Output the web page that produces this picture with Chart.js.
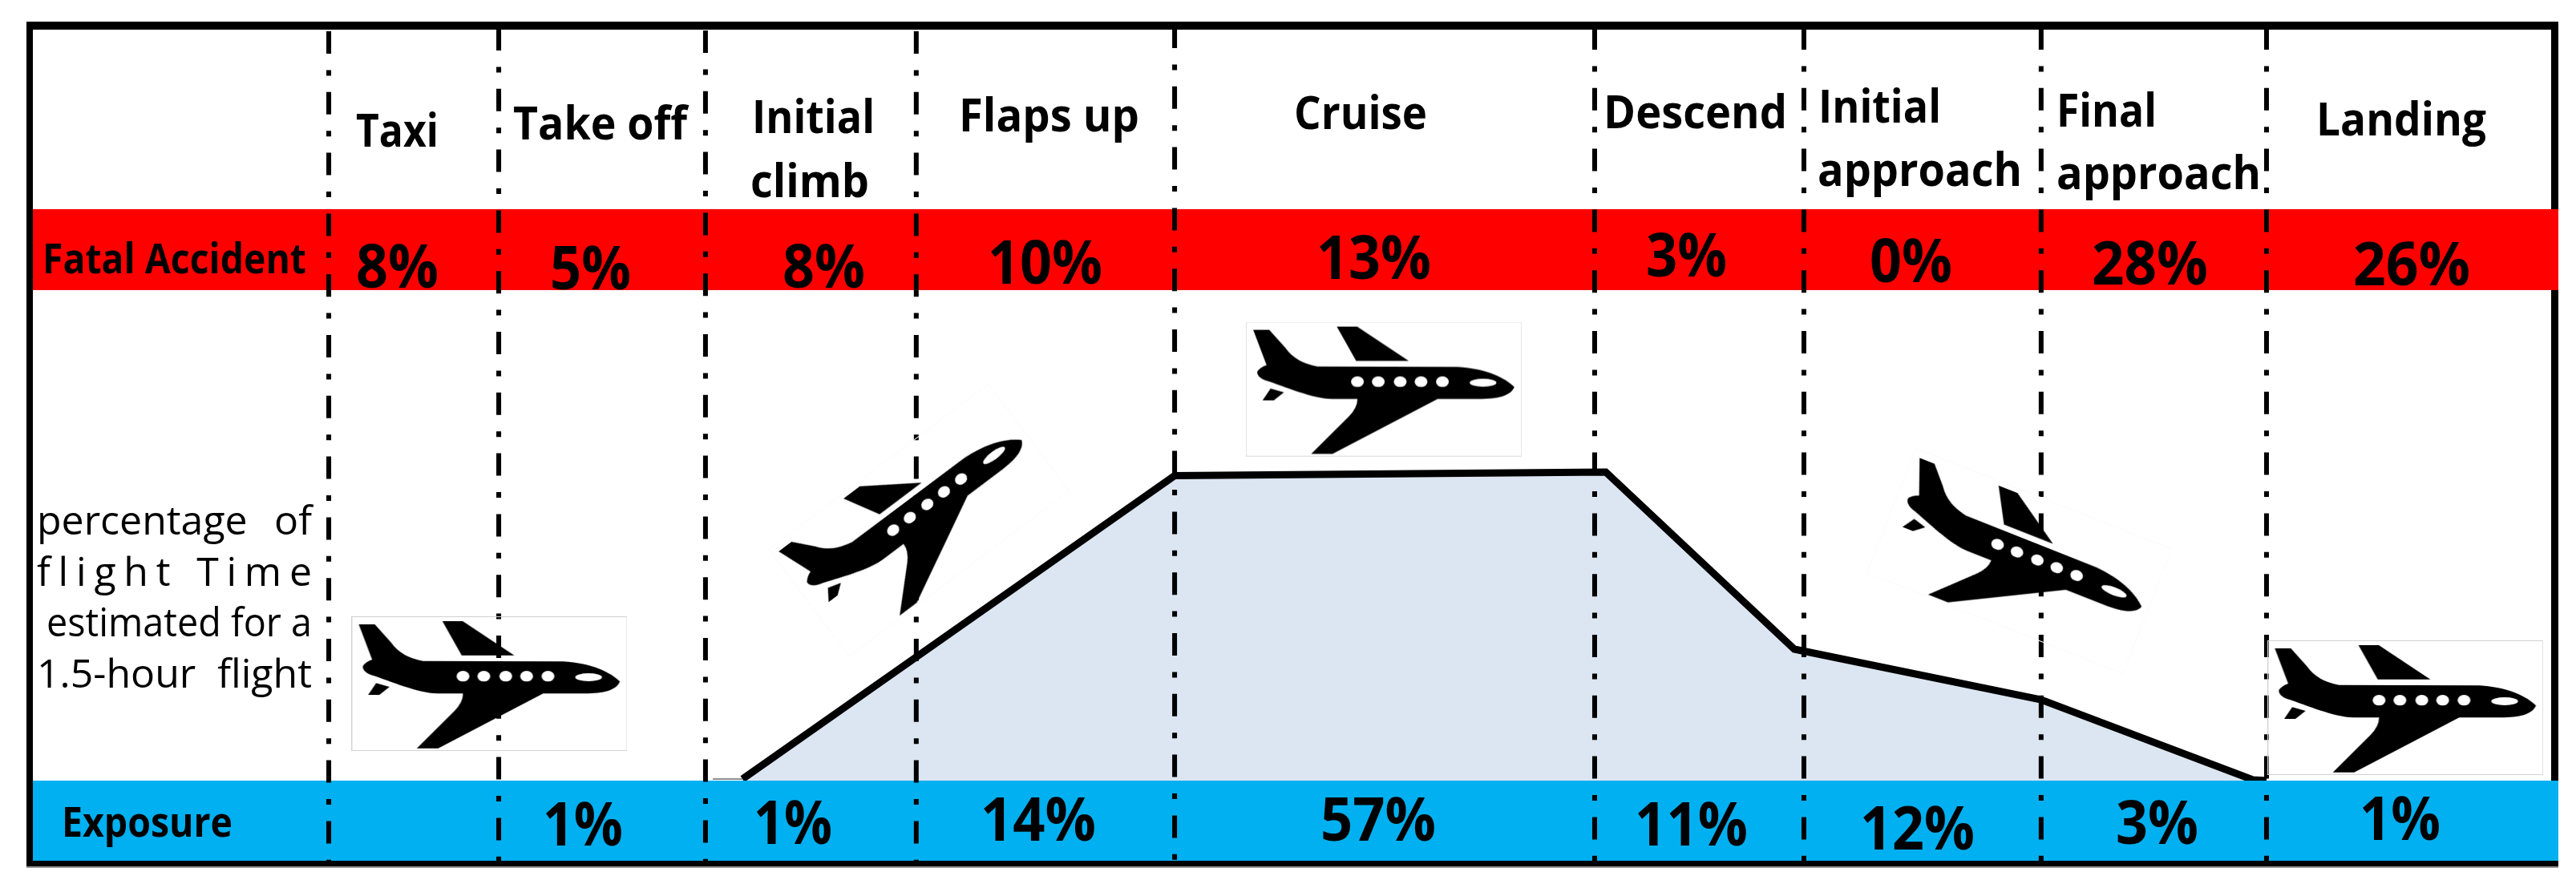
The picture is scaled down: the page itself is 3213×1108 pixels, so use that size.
<!DOCTYPE html>
<html>
<head>
<meta charset="utf-8">
<title>Flight phases</title>
<script src="https://cdn.jsdelivr.net/npm/chart.js@4/dist/chart.umd.js"></script>
<style>
  html, body { margin: 0; padding: 0; background: #fff; }
  canvas { display: block; }
</style>
</head>
<body>
<canvas id="grafico" width="3213" height="1108"></canvas>
<script>
// ---- data. x and y are % of the table width / height
var phaseLabels = ['Taxi', 'Take off', ['Initial', 'climb'], 'Flaps up', 'Cruise', 'Descend',
  ['Initial', 'approach'], ['Final', 'approach'], 'Landing'];
var fatalValues = [8, 5, 8, 10, 13, 3, 0, 28, 26];
var exposureValues = [null, 1, 1, 14, 57, 11, 12, 3, 1];
var rowFatal = 'Fatal Accident';
var rowExposure = 'Exposure';
var noteLines = ['percentage of', 'flight Time', 'estimated for a', '1.5-hour flight'];

var phaseEdges = [11.75, 18.5, 26.71, 35.08, 45.34, 62.02, 70.33, 79.75, 88.7];

var profileX = [28.18, 45.34, 62.46, 69.95, 79.75, 88.16, 88.7];
var profileY = [9.84, 46.33, 46.77, 25.46, 19.38, 9.74, 9.64];
var groundX = [27, 28.18];
var groundY = [9.84, 9.84];

var fatalBand = [68.66, 78.4];
var exposureBand = [0, 9.64];

var planeX = [18.13, 35.18, 53.65, 78.89, 94.22];
var planeY = [21.31, 40.98, 56.75, 36.07, 18.42];
var planeAngle = [0, -37, 0, 21.5, 0];

// ---- layout of the texts in the page: [left, right, baseline]
var phasePlace = [
  [[444, 547, 183]], [[640, 857, 174]], [[938, 1091, 166], [936, 1084, 246]], [[1196, 1421, 164]],
  [[1614, 1780, 161]], [[2000, 2229, 160]], [[2268, 2421, 153], [2267, 2522, 232]],
  [[2565, 2690, 158], [2565, 2820, 236]], [[2889, 3101, 169]]
];
var fatalPlace = [[444, 547, 359], [686, 787, 361], [976, 1079, 359], [1232, 1375, 354], [1642, 1785, 348],
  [2053, 2154, 345], [2332, 2435, 352], [2609, 2754, 355], [2935, 3081, 356]];
var exposurePlace = [null, [677, 777, 1055], [940, 1038, 1053], [1223, 1367, 1049], [1647, 1791, 1049],
  [2039, 2180, 1055], [2320, 2463, 1060], [2639, 2742, 1053], [2943, 3044, 1048]];
var notePlace = [[46, 389, 667], [46, 389, 731], [58, 389, 794], [46, 389, 858]];
var dashShift = [-2, 2, -1, -2, 5, 3, 3, 3, 3];
var planeBoxColor = ['#d2d2d2', '#fbfbfb', '#e4e4e4', '#fbfbfb', '#d2d2d2'];

var TEXT_FONT = '"Open Sans"';

function desenhaAviao(corCaixa) {
  var c = document.createElement('canvas');
  c.width = 344;
  c.height = 168;
  var g = c.getContext('2d');
  g.strokeStyle = corCaixa;
  g.lineWidth = 1;
  g.strokeRect(0.5, 0.5, 343, 167);
  g.scale(1 / 3, 1 / 3);
  g.translate(-28, -28);
  g.fillStyle = '#000';
  // fuselage, tail fin and near wing
  g.beginPath();
  g.moveTo(55, 58);
  g.lineTo(115, 58);
  g.lineTo(175, 125);
  g.quadraticCurveTo(215, 182, 295, 195);
  g.lineTo(820, 197);
  g.bezierCurveTo(930, 203, 1000, 240, 1032, 272);
  g.bezierCurveTo(1020, 305, 970, 317, 900, 317);
  g.lineTo(745, 317);
  g.lineTo(352, 522);
  g.lineTo(272, 522);
  g.lineTo(413, 382);
  g.quadraticCurveTo(445, 350, 445, 317);
  g.lineTo(350, 317);
  g.bezierCurveTo(270, 314, 180, 272, 100, 247);
  g.quadraticCurveTo(68, 235, 70, 215);
  g.quadraticCurveTo(80, 198, 105, 190);
  g.closePath();
  g.fill();
  // far wing
  g.beginPath();
  g.moveTo(368, 46);
  g.lineTo(444, 46);
  g.lineTo(637, 174);
  g.lineTo(440, 174);
  g.closePath();
  g.fill();
  // small tailplane
  g.beginPath();
  g.moveTo(120, 278);
  g.lineTo(170, 292);
  g.lineTo(132, 322);
  g.lineTo(90, 322);
  g.closePath();
  g.fill();
  // windows
  g.fillStyle = '#fff';
  [445, 523, 605, 683, 763].forEach(function (wx) {
    g.beginPath();
    g.ellipse(wx, 252, 24, 20, 0, 0, Math.PI * 2);
    g.fill();
  });
  g.beginPath();
  g.ellipse(915, 256, 50, 15, 0, 0, Math.PI * 2);
  g.fill();
  return c;
}

function juntaPontos(xs, ys) {
  return xs.map(function (x, i) { return { x: x, y: ys[i] }; });
}

function faixa(limites, cor) {
  return {
    type: 'scatter', showLine: true, order: 5, pointRadius: 0, borderWidth: 0,
    data: [{ x: 0, y: limites[0] }, { x: 100.29, y: limites[0] }],
    fill: { value: limites[1] }, backgroundColor: cor, borderColor: cor
  };
}

var datasets = [];

datasets.push({
  type: 'scatter', showLine: true, order: 7, pointRadius: 0, borderWidth: 2, borderColor: '#8f8f8f',
  data: juntaPontos(groundX, groundY)
});
datasets.push({
  type: 'scatter', showLine: true, order: 6, pointRadius: 0, borderWidth: 9, borderColor: '#000',
  borderJoinStyle: 'miter', tension: 0,
  data: juntaPontos(profileX, profileY), fill: 'origin', backgroundColor: '#DCE6F2'
});
datasets.push(faixa(fatalBand, '#FF0000'));
datasets.push(faixa(exposureBand, '#00B0F0'));

phaseEdges.forEach(function (x, i) {
  datasets.push({
    type: 'scatter', showLine: true, order: 3, pointRadius: 0, borderWidth: 6, borderColor: '#000',
    borderDash: [28, 20.4, 7, 20.4], borderDashOffset: dashShift[i],
    data: [{ x: x, y: 100 }, { x: x, y: 0 }]
  });
});

datasets.push({
  type: 'scatter', order: 1,
  data: juntaPontos(planeX, planeY),
  pointStyle: planeBoxColor.map(desenhaAviao),
  pointRotation: planeAngle,
  pointRadius: 10
});

function escreve(ctx, texto, lugar, fonte) {
  ctx.font = fonte;
  ctx.textAlign = 'left';
  ctx.textBaseline = 'alphabetic';
  ctx.fillStyle = '#000';
  ctx.fillText(texto, lugar[0], lugar[2], lugar[1] - lugar[0]);
}

// justified note: spreads the letters or words to fill the width
function escreveJustificado(ctx, texto, lugar, fonte, porLetra) {
  ctx.font = fonte;
  ctx.textAlign = 'left';
  ctx.fillStyle = '#000';
  var sobra = lugar[1] - lugar[0] - ctx.measureText(texto).width;
  if (sobra > 0) {
    if (porLetra) ctx.letterSpacing = (sobra / (texto.length - 1)) + 'px';
    else ctx.wordSpacing = (sobra / (texto.split(' ').length - 1)) + 'px';
  }
  ctx.fillText(texto, lugar[0], lugar[2], sobra > 0 ? undefined : lugar[1] - lugar[0]);
  ctx.letterSpacing = '0px';
  ctx.wordSpacing = '0px';
}

var moldura = {
  id: 'moldura',
  beforeDatasetsDraw: function (chart) {
    var ctx = chart.ctx, a = chart.chartArea;
    ctx.save();
    ctx.fillStyle = '#000';
    ctx.fillRect(33, 27, a.right - 33, a.top - 27);
    ctx.fillRect(33, 27, a.left - 33, 1081 - 27);
    ctx.fillRect(a.right - 9, 27, 9, 1081 - 27);
    ctx.fillRect(33, a.bottom, a.right - 33, 1081 - a.bottom);
    ctx.fillStyle = '#999';
    ctx.fillRect(33, 1081, a.right - 33, 2);
    ctx.restore();
  },
  afterDatasetsDraw: function (chart) {
    var ctx = chart.ctx;
    ctx.save();
    phaseLabels.forEach(function (rotulo, i) {
      [].concat(rotulo).forEach(function (linha, j) {
        escreve(ctx, linha, phasePlace[i][j], '700 58px ' + TEXT_FONT);
      });
    });
    fatalValues.forEach(function (v, i) {
      escreve(ctx, v + '%', fatalPlace[i], '700 76px ' + TEXT_FONT);
    });
    exposureValues.forEach(function (v, i) {
      if (v !== null) escreve(ctx, v + '%', exposurePlace[i], '700 76px ' + TEXT_FONT);
    });
    escreve(ctx, rowFatal, [53, 382, 341], '700 52px ' + TEXT_FONT);
    escreve(ctx, rowExposure, [77, 290, 1044], '700 52px ' + TEXT_FONT);
    noteLines.forEach(function (linha, i) {
      escreveJustificado(ctx, linha, notePlace[i], '400 50px ' + TEXT_FONT, i === 1);
    });
    ctx.restore();
  }
};

var ctx = document.getElementById('grafico').getContext('2d');
var chart = new Chart(ctx, {
  data: { datasets: datasets },
  plugins: [moldura],
  options: {
    responsive: false,
    animation: false,
    layout: { padding: { left: 41, top: 37, right: 22, bottom: 34 } },
    plugins: { legend: { display: false }, tooltip: { enabled: false }, title: { display: false } },
    scales: {
      x: { type: 'linear', display: false, min: 0, max: 100.29 },
      y: { type: 'linear', display: false, min: 0, max: 100 }
    }
  }
});
</script>
</body>
</html>
